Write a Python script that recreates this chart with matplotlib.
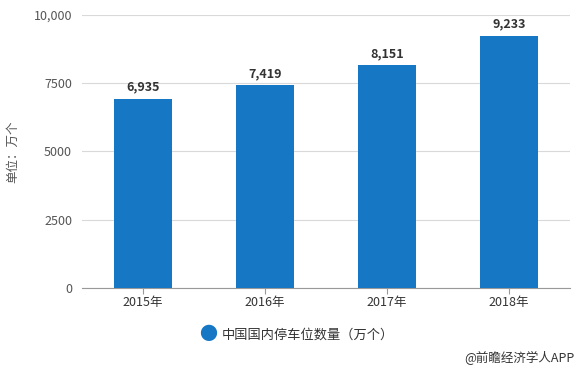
import matplotlib
matplotlib.use("Agg")
import matplotlib.pyplot as plt
import numpy as np

plt.rcParams['font.family'] = ['Noto Sans CJK SC', 'DejaVu Sans']

years = ["2015年", "2016年", "2017年", "2018年"]
counts = [6935, 7419, 8151, 9233]
yticks = [0, 2500, 5000, 7500, 10000]
ytick_labels = ["0", "2500", "5000", "7500", "10,000"]

bar_color = "#1677c4"
grey = "#555555"

fig = plt.figure(figsize=(5.8, 3.71), dpi=100)
ax = fig.add_axes([0.141, 0.224, 0.842, 0.736])

x = np.arange(len(years))
ax.bar(x, counts, width=0.475, color=bar_color, zorder=3)

for xi, v in zip(x, counts):
    ax.text(xi, v + 200, "{:,}".format(v), ha="center", va="bottom",
            fontsize=9, fontweight="bold", color="#333333", zorder=4)

ax.set_xlim(-0.5, len(years) - 0.5)
ax.set_ylim(0, 10000)
ax.set_yticks(yticks)
ax.set_yticklabels(ytick_labels)
ax.set_xticks(x)
ax.set_xticklabels(years)

ax.grid(axis="y", color="#d9d9d9", linewidth=0.8, zorder=0)
for s in ["top", "right", "left"]:
    ax.spines[s].set_visible(False)
ax.spines["bottom"].set_color("#999999")
ax.tick_params(axis="y", length=0, labelsize=9, labelcolor=grey, pad=7)
ax.tick_params(axis="x", length=4, color="#999999", labelsize=9, labelcolor="#333333", pad=2)

ax.set_ylabel("单位：万个", fontsize=9, color=grey, labelpad=10)

# legend
fig.text(0.359, 0.097, "●", fontsize=13, color=bar_color, ha="center", va="center")
fig.text(0.382, 0.097, "中国国内停车位数量（万个）", fontsize=9.5, color="#333333",
         ha="left", va="center")

fig.text(0.99, 0.035, "@前瞻经济学人APP", fontsize=9, color="#333333",
         ha="right", va="center")

plt.savefig("out.png", dpi=100)
